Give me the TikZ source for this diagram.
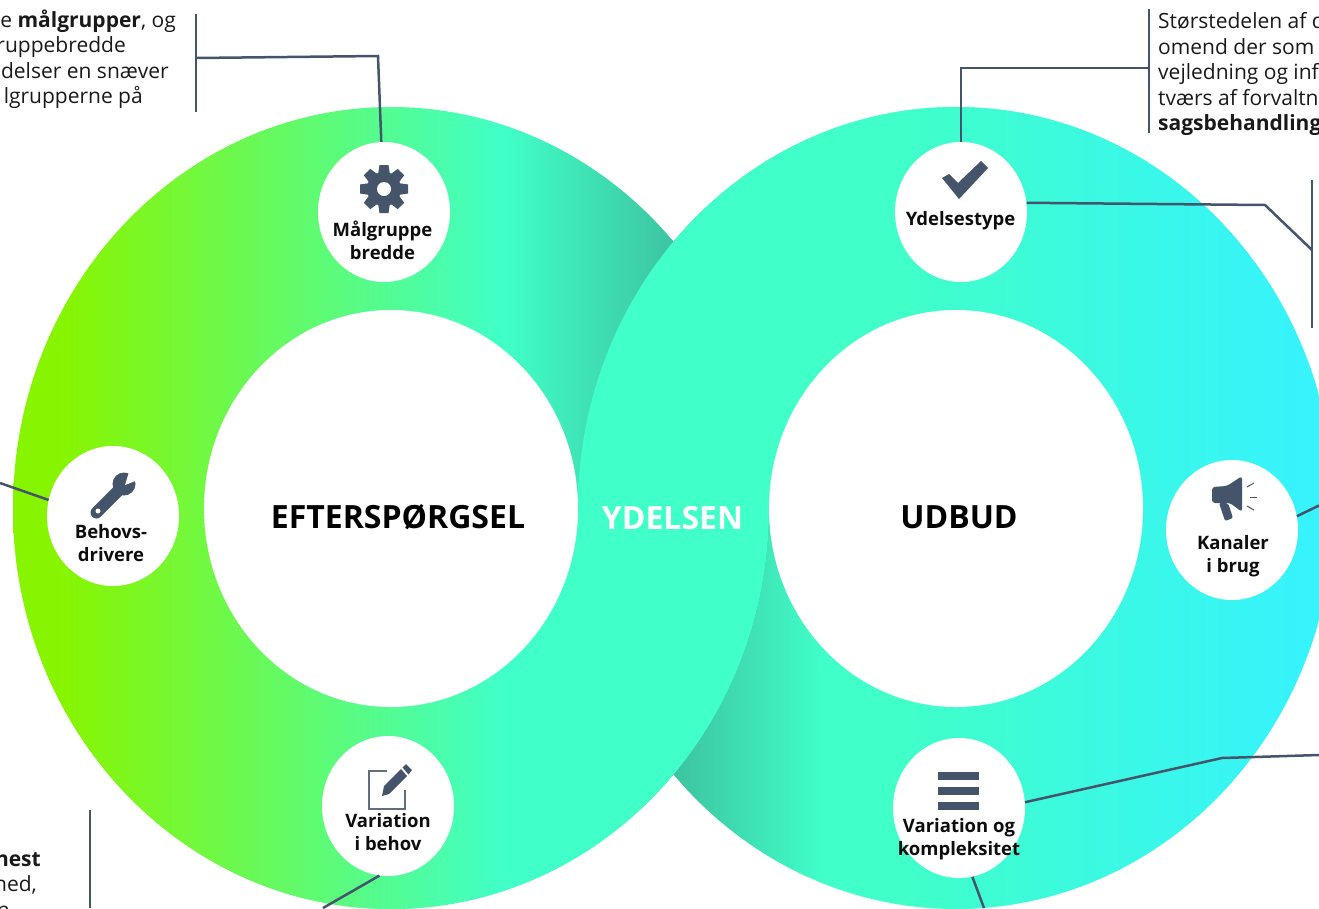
\documentclass[tikz,border=0pt]{standalone}
\usepackage{fontspec}
\setmainfont{Open Sans}
\usetikzlibrary{shapes.geometric}

\definecolor{limegreen}{HTML}{88F500}
\definecolor{aqua}{HTML}{40FFC8}
\definecolor{shadeaqua}{HTML}{3DC2A0}
\definecolor{skycyan}{HTML}{36F3FC}
\definecolor{slate}{HTML}{44546A}

\pgfdeclarehorizontalshading{ringleft}{100bp}{color(0bp)=(limegreen); color(28.1bp)=(limegreen); color(57.5bp)=(aqua); color(69bp)=(shadeaqua); color(100bp)=(shadeaqua)}
\pgfdeclarehorizontalshading{ringleftflat}{100bp}{color(0bp)=(limegreen); color(28.1bp)=(limegreen); color(57.5bp)=(aqua); color(100bp)=(aqua)}
\pgfdeclarehorizontalshading{ringright}{100bp}{color(0bp)=(shadeaqua); color(31.2bp)=(shadeaqua); color(41.3bp)=(aqua); color(46.3bp)=(aqua); color(72.8bp)=(skycyan); color(100bp)=(skycyan)}
\pgfdeclarehorizontalshading{ringrightflat}{100bp}{color(0bp)=(aqua); color(46.3bp)=(aqua); color(72.8bp)=(skycyan); color(100bp)=(skycyan)}

\begin{document}
\begin{tikzpicture}[x=1pt, y=-1pt]
		\tikzset{
			every node/.style={
				inner sep=0pt,
				align=center
			},
			hub/.style={
				ellipse,
				fill=white,
				minimum width=374pt,
				minimum height=397pt
			},
			disc/.style={
				ellipse,
				fill=white,
				minimum width=132pt,
				minimum height=140pt
			},
			title/.style={
				font=\bfseries\fontsize{32}{40}\selectfont,
				text=black
			},
			caption/.style={
				font=\bfseries\fontsize{18.5}{22.7}\selectfont,
				text=black!95
			},
			body/.style={
				font=\fontsize{21}{25.5}\selectfont,
				text=black!90
			},
			line/.style={
				draw=slate,
				line width=2.5pt
			},
			icon/.style={
				fill=slate
			}
		}

		\clip (0, 0) rectangle (1319, 908);

		\shade[shading=ringright] (956, 508) ellipse [x radius=378pt, y radius=401pt];
		\shade[shading=ringleft] (391, 508) ellipse [x radius=378pt, y radius=401pt];
		\begin{scope}
			\clip (0, 0) rectangle (1319, 508);
			\shade[shading=ringrightflat] (956, 508) ellipse [x radius=378pt, y radius=401pt];
		\end{scope}
		\begin{scope}
			\clip (0, 508) rectangle (1319, 908);
			\shade[shading=ringleftflat] (391, 508) ellipse [x radius=378pt, y radius=401pt];
		\end{scope}

		\node[hub] (demand) at (391, 508.5) {};
		\node[hub] (supply) at (956, 508.5) {};

		\node[disc] (target) at (384, 212) {};
		\node[disc] (type) at (961, 212) {};
		\node[disc] (driver) at (113, 516) {};
		\node[disc] (channel) at (1232, 530) {};
		\node[disc] (need) at (388, 806) {};
		\node[disc] (complex) at (959, 808) {};

		\node[title] (demandtext) at (398, 517) {EFTERSPØRGSEL};
		\node[title] (supplytext) at (959, 517) {UDBUD};
		\node[title, text=white] (servicetext) at (672.5, 518) {YDELSEN};

		\node[caption] (targettext) at (382.5, 240.5) {Målgruppe\\bredde};
		\node[caption] (typetext) at (960.5, 221) {Ydelsestype};
		\node[caption] (drivertext) at (111, 543) {Behovs-\\drivere};
		\node[caption] (channeltext) at (1233, 556.5) {Kanaler\\i brug};
		\node[caption] (needtext) at (388, 832) {Variation\\i behov};
		\node[caption] (complextext) at (959, 839) {Variation og\\kompleksitet};

		\node[body, anchor=north west, align=left] (typenote) at (1158, 12.5)
			{Størstedelen af d\\omend der som\\vejledning og inf\\tværs af forvaltn\\\textbf{sagsbehandling}};
		\node[body, anchor=north east, align=right] (targetnote) at (176, 9.5)
			{e \textbf{målgrupper}, og\\ruppebredde\rule{50pt}{0pt}\\delser en snæver\rule{7pt}{0pt}\\lgrupperne på\rule{33pt}{0pt}};
		\node[body, anchor=north east, align=right] (neednote) at (41, 852)
			{\textbf{nest}\\ned,\rule{4pt}{0pt}\\n\rule{31pt}{0pt}};

		\coordinate (targetbar1) at (196, 14);
		\coordinate (targetbar2) at (196, 112);
		\coordinate (targetjoin) at (196, 58);
		\coordinate (targetknee) at (378, 56);
		\coordinate (typebar1) at (1149, 9);
		\coordinate (typebar2) at (1149, 133);
		\coordinate (typejoin) at (1149, 68);
		\coordinate (typeknee) at (961, 68);
		\coordinate (kindbar1) at (1312, 180);
		\coordinate (kindbar2) at (1312, 328);
		\coordinate (kindjoin) at (1312, 250);
		\coordinate (kindknee) at (1265, 205);
		\coordinate (complexknee) at (1222, 758);
		\coordinate (complexend) at (1319, 755);
		\coordinate (complexfoot) at (984, 908);
		\coordinate (channelend) at (1319, 505.5);
		\coordinate (driverend) at (0, 483);
		\coordinate (needend) at (323, 908);
		\coordinate (needbar1) at (90, 810);
		\coordinate (needbar2) at (90, 908);

		\draw[line] (targetbar1) -- (targetbar2);
		\draw[line] (targetjoin) -- (targetknee) -- (target);
		\draw[line] (typebar1) -- (typebar2);
		\draw[line] (typejoin) -- (typeknee) -- (type);
		\draw[line] (kindbar1) -- (kindbar2);
		\draw[line] (type.8) -- (kindknee) -- (kindjoin);
		\draw[line] (complex.5) -- (complexknee) -- (complexend);
		\draw[line] (complex.-79) -- (complexfoot);
		\draw[line] (channel.12) -- (channelend);
		\draw[line] (driver.166) -- (driverend);
		\draw[line] (need.-97) -- (needend);
		\draw[line] (needbar1) -- (needbar2);

		% gear
		\foreach \a in {0, 45, ..., 315} {
			\fill[icon, rotate around={\a:(384, 189)}] (379.5, 165) -- (388.5, 165) -- (390, 175) -- (378, 175) -- cycle;
		}
		\fill[icon] (384, 189) circle [radius=17pt];
		\fill[white] (384, 189) circle [radius=7pt];

		% check mark
		\fill[icon] (942, 178) -- (949, 174) -- (958, 183) -- (981, 161) -- (988, 168) -- (959, 199) -- cycle;

		% wrench
		\draw[slate, line width=12pt, line cap=round] (96.5, 512.5) -- (120, 489);
		\fill[icon] (124, 484) circle [radius=11.5pt];
		\fill[white] (129, 472) -- (138, 480) -- (125, 485) -- cycle;
		\fill[white] (98, 511) circle [radius=2.5pt];

		% pencil on a sheet
		\draw[slate!85, line width=1.5pt] (387, 771) -- (369, 771) -- (369, 809) -- (405, 809) -- (405, 790);
		\fill[icon] (382, 796) -- (384, 786) -- (401, 769) -- (407, 776) -- (389, 794) -- cycle;
		\fill[icon] (402.5, 767.5) -- (406, 764) -- (412, 770) -- (408.5, 774.5) -- cycle;

		% bars
		\foreach \y in {772, 787, 802} {
			\fill[icon] (938, \y) rectangle (979, \y + 8);
		}

		% megaphone
		\fill[icon, rounded corners=3pt] (1242, 476) -- (1227, 486) -- (1212, 487) -- (1212, 503) -- (1230, 503) -- (1242, 512) -- cycle;
		\fill[icon, rounded corners=2pt] (1219, 503) -- (1225, 521) -- (1233, 518) -- (1228, 503) -- cycle;
		\draw[slate, line width=1pt] (1247, 487) -- (1254, 483);
		\draw[slate, line width=1pt] (1250, 497) -- (1257, 497);
		\draw[slate, line width=1pt] (1247, 506) -- (1254, 510);
	\end{tikzpicture}
\end{document}
